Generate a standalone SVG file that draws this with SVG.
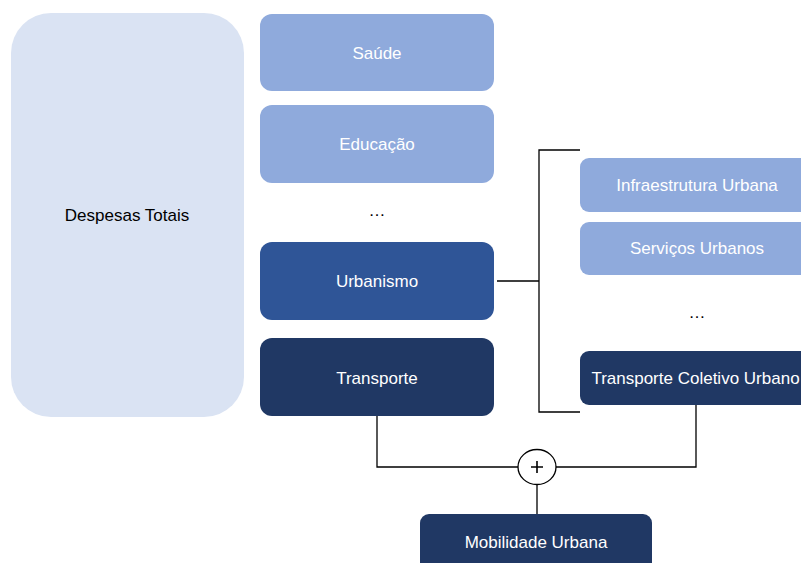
<svg xmlns="http://www.w3.org/2000/svg" width="801" height="563" viewBox="0 0 801 563">
<style>
text{font-family:"Liberation Sans",Arial,sans-serif;font-size:17px;text-anchor:middle;dominant-baseline:central}
.w{fill:#fff}
.k{fill:#000}
.l1{fill:#8faadc}
.l2{fill:#2f5597}
.l3{fill:#203864}
.c{fill:none;stroke:#000;stroke-width:1.3}
</style>
<rect width="801" height="563" fill="#fff"/>
<g id="despesas"><rect x="11" y="13" width="233" height="404" rx="40" fill="#dae3f3"/><text class="k" x="127" y="215">Despesas Totais</text></g>
<g id="saude"><rect class="l1" x="260" y="14" width="234" height="77" rx="12"/><text class="w" x="377" y="53">Saúde</text></g>
<g id="educacao"><rect class="l1" x="260" y="105" width="234" height="78" rx="12"/><text class="w" x="377" y="144">Educação</text></g>
<g id="dots1"><text class="k" x="377" y="210">…</text></g>
<g id="urbanismo"><rect class="l2" x="260" y="242" width="234" height="78" rx="12"/><text class="w" x="377" y="281">Urbanismo</text></g>
<g id="transporte"><rect class="l3" x="260" y="338" width="234" height="78" rx="12"/><text class="w" x="377" y="378">Transporte</text></g>
<g id="infra"><rect class="l1" x="580" y="158" width="236" height="54" rx="9"/><text class="w" x="697" y="185">Infraestrutura Urbana</text></g>
<g id="servicos"><rect class="l1" x="580" y="222" width="236" height="53" rx="9"/><text class="w" x="697" y="248">Serviços Urbanos</text></g>
<g id="dots2"><text class="k" x="697" y="312">…</text></g>
<g id="tcu"><rect class="l3" x="580" y="351" width="236" height="54" rx="9"/><text class="w" x="695.5" y="378.5">Transporte Coletivo Urbano</text></g>
<g id="mobilidade"><rect class="l3" x="420" y="514" width="232" height="62" rx="9"/><text class="w" x="536" y="542">Mobilidade Urbana</text></g>
<g id="connectors">
<path class="c" d="M497 281H539M580 150H539V412H580"/>
<path class="c" d="M377 416V467H518M556 467H696V405M537 484V514"/>
<g id="plus"><ellipse cx="537" cy="467" rx="19" ry="17.5" fill="#fff" stroke="#000" stroke-width="1.3"/><path d="M531 467H543M537 461V473" stroke="#000" stroke-width="1.6"/></g>
</g>
</svg>
